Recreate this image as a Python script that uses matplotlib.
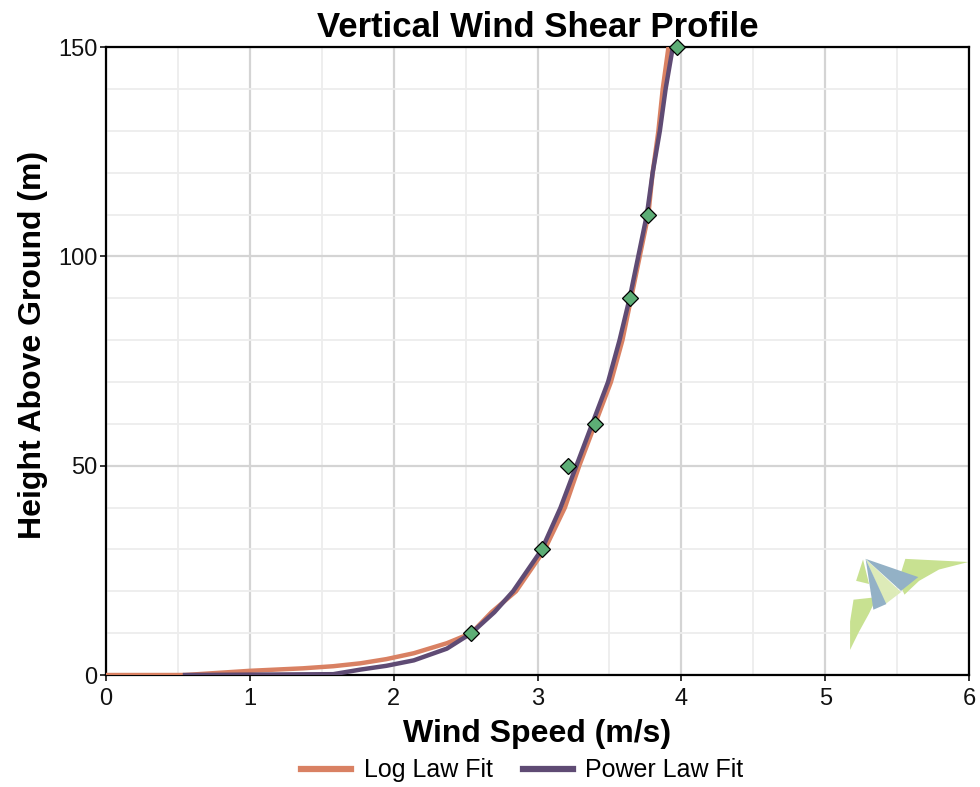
import matplotlib
matplotlib.use("Agg")
import matplotlib.pyplot as plt
from matplotlib.patches import Polygon
from matplotlib.ticker import MultipleLocator

plt.rcParams["font.family"] = ["Liberation Sans", "DejaVu Sans"]

# ── Data ──────────────────────────────────────────────────────────────────────
meas_speed  = [2.54, 3.03, 3.21, 3.40, 3.64, 3.77, 3.97]
meas_height = [10, 30, 50, 60, 90, 110, 150]

log_speed  = [0.0, 0.55, 1.00, 1.37, 1.58, 1.77, 1.95, 2.14, 2.37, 2.54, 2.68,
              2.85, 3.05, 3.19, 3.29, 3.40, 3.51, 3.59, 3.65, 3.71, 3.77, 3.80,
              3.84, 3.87, 3.91]
log_height = [0.0, 0.0, 1.0, 1.6, 2.1, 2.8, 3.8, 5.2, 7.6, 10, 15,
              20, 30, 40, 50, 60, 70, 80, 90, 100, 110, 120,
              130, 140, 150]

pow_speed  = [0.55, 1.58, 1.77, 1.95, 2.14, 2.37, 2.54, 2.70, 2.83, 3.03, 3.16,
              3.27, 3.38, 3.49, 3.57, 3.64, 3.70, 3.76, 3.80, 3.85, 3.89, 3.94]
pow_height = [0.0, 0.2, 1.3, 2.2, 3.5, 6.3, 10, 15, 20, 30, 40,
              50, 60, 70, 80, 90, 100, 110, 120, 130, 140, 150]

LOG_COLOR = "#D98163"
POW_COLOR = "#5F4B74"
MARK_COLOR = "#5DAE76"

# logo pieces (axes fraction), purely decorative
logo_green = [
    [(0.926, 0.185), (0.999, 0.180), (0.965, 0.168), (0.942, 0.150), (0.925, 0.128), (0.918, 0.150)],
    [(0.866, 0.120), (0.893, 0.124), (0.884, 0.098), (0.872, 0.068), (0.862, 0.040), (0.862, 0.085)],
    [(0.877, 0.184), (0.869, 0.150), (0.884, 0.145)],
]
logo_pale = [(0.880, 0.185), (0.921, 0.132), (0.903, 0.113)]
logo_blue = [
    [(0.880, 0.185), (0.941, 0.156), (0.921, 0.134)],
    [(0.880, 0.185), (0.889, 0.104), (0.904, 0.113)],
]


def main():
    fig = plt.figure(figsize=(9.8, 7.87), dpi=100)
    ax = fig.add_axes([0.108, 0.1423, 0.881, 0.7977])

    ax.set_xlim(0, 6)
    ax.set_ylim(0, 150)
    ax.xaxis.set_major_locator(MultipleLocator(1))
    ax.xaxis.set_minor_locator(MultipleLocator(0.5))
    ax.yaxis.set_major_locator(MultipleLocator(50))
    ax.yaxis.set_minor_locator(MultipleLocator(10))
    ax.grid(which="major", color="#D4D4D4", linewidth=1.6, zorder=0)
    ax.grid(which="minor", color="#EDEDED", linewidth=1.3, zorder=0)
    ax.set_axisbelow(True)

    for s in ax.spines.values():
        s.set_linewidth(1.6)
        s.set_color("black")

    ax.tick_params(which="major", length=4, width=1.2, labelsize=17,
                   colors="#111111", pad=2)
    ax.tick_params(which="minor", length=0)
    ax.tick_params(axis="x", pad=5)

    # logo
    for pts in logo_green:
        ax.add_patch(Polygon(pts, closed=True, transform=ax.transAxes,
                             facecolor="#C8E191", edgecolor="none", zorder=1))
    ax.add_patch(Polygon(logo_pale, closed=True, transform=ax.transAxes,
                         facecolor="#DDEBB8", edgecolor="none", zorder=1))
    for pts in logo_blue:
        ax.add_patch(Polygon(pts, closed=True, transform=ax.transAxes,
                             facecolor="#93B1C6", edgecolor="none", zorder=1))

    ax.plot(log_speed, log_height, color=LOG_COLOR, linewidth=3.2,
            label="Log Law Fit", zorder=3)
    ax.plot(pow_speed, pow_height, color=POW_COLOR, linewidth=3.2,
            label="Power Law Fit", zorder=4)
    ax.plot(meas_speed, meas_height, linestyle="none", marker="D",
            markersize=8, markerfacecolor=MARK_COLOR, markeredgecolor="black",
            markeredgewidth=0.9, zorder=5, clip_on=False)

    ax.set_title("Vertical Wind Shear Profile", fontsize=25, fontweight="bold",
                 pad=7)
    ax.set_xlabel("Wind Speed (m/s)", fontsize=23, fontweight="bold", labelpad=7)
    ax.set_ylabel("Height Above Ground (m)", fontsize=23, fontweight="bold",
                  labelpad=7)
    ax.yaxis.label.set_y(0.525)

    handles, labels = ax.get_legend_handles_labels()
    leg = fig.legend(handles, labels, loc="center", bbox_to_anchor=(0.533, 0.021),
                     ncol=2, frameon=False, fontsize=18, handlelength=2.0,
                     columnspacing=1.2, handletextpad=0.5)
    for line in leg.get_lines():
        line.set_linewidth(4.5)

    fig.savefig("out.png", dpi=100)
    plt.close(fig)


if __name__ == "__main__":
    main()
